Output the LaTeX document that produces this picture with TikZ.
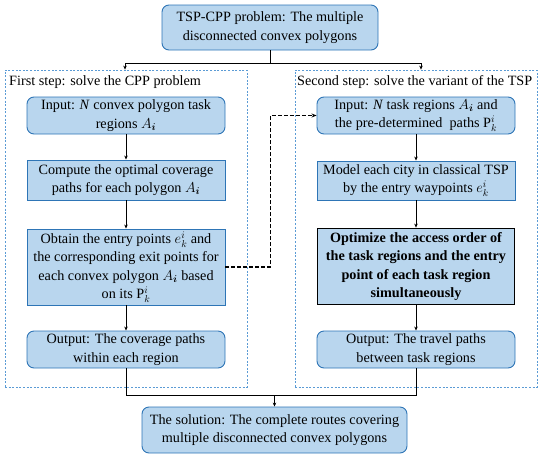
\documentclass[tikz,border=0pt]{standalone}
\usepackage{amsmath,bm}
\usepackage{fontspec}
\setmainfont{Liberation Serif}
\usetikzlibrary{arrows.meta,positioning}
\definecolor{boxfill}{RGB}{185,214,238}
\definecolor{boxline}{RGB}{46,117,182}
\definecolor{frameline}{RGB}{91,155,213}
\begin{document}
\begin{tikzpicture}[x=1pt,y=-1pt,
  base/.style={draw=boxline, fill=boxfill, line width=0.9pt, align=center,
    inner sep=1pt, font=\fontsize{14.2}{18.3}\selectfont},
  rbox/.style={base, rounded corners=7pt},
  sbox/.style={base},
  bbox/.style={base, draw=black, line width=1.8pt},
  frm/.style={draw=frameline, line width=0.8pt, dash pattern=on 2pt off 1.6pt, minimum width=242pt, minimum height=317pt},
  arr/.style={-{Stealth[length=4pt,width=3.5pt]}, line width=0.6pt},
  darr/.style={-{Stealth[length=5pt,width=4pt]}, line width=1.3pt, dash pattern=on 4pt off 2pt},
  ttl/.style={anchor=west, font=\fontsize{14.2}{17}\selectfont, inner sep=0pt}
]
\useasboundingbox (0,0) rectangle (542,456);
\node[rbox, minimum width=216pt, minimum height=45pt] (top) at (270,27.5) {TSP-CPP problem: The multiple\\disconnected convex polygons};

\node[frm] (frL) at (126,228.5) {};
\node[frm] (frR) at (416,228.5) {};
\node[ttl] (tL) at (9,82) {First step: solve the CPP problem};
\node[ttl] (tR) at (297,82) {Second step: solve the variant of the TSP};

\node[rbox, minimum width=198pt, minimum height=37pt] (L1) at (126,115.5) {Input: \textit{N} convex polygon task\\regions $A_{\bm{i}}$};
\node[sbox, minimum width=198pt, minimum height=40pt] (L2) at (126,180) {Compute the optimal coverage\\paths for each polygon $A_{\bm{i}}$};
\node[sbox, minimum width=198pt, minimum height=76pt] (L3) at (126,267) {Obtain the entry points $e_k^i$ and\\the corresponding exit points for\\each convex polygon $A_{\bm{i}}$ based\\on its $\mathrm{P}_k^i$};
\node[rbox, minimum width=198pt, minimum height=37pt] (L4) at (126,349.5) {Output: The coverage paths\\within each region};

\node[rbox, minimum width=198pt, minimum height=37pt] (R1) at (416,115.5) {Input: \textit{N} task regions $A_{\bm{i}}$ and\\the pre-determined\ \ paths $\mathrm{P}_k^i$};
\node[sbox, minimum width=198pt, minimum height=39pt] (R2) at (416,180.5) {Model each city in classical TSP\\by the entry waypoints $e_k^i$};
\node[bbox, minimum width=197pt, minimum height=76pt] (R3) at (416,266.5) {\bfseries Optimize the access order of\\\bfseries the task regions and the entry\\\bfseries point of each task region\\\bfseries simultaneously};
\node[rbox, minimum width=198pt, minimum height=37pt] (R4) at (416,349.5) {Output: The travel paths\\between task regions};

\node[rbox, minimum width=265pt, minimum height=46pt] (bot) at (274.5,430) {The solution: The complete routes covering\\multiple disconnected convex polygons};

\draw[line width=0.6pt] (top.south) -- ++(0,13) coordinate (jt);
\draw[arr] (jt) -| ([xshift=-1pt]frL.north);
\draw[arr] (jt) -| ([xshift=5pt]frR.north);

\draw[arr] (L1) -- (L2);
\draw[arr] (L2) -- (L3);
\draw[arr] (L3) -- (L4);
\draw[arr] (R1) -- (R2);
\draw[arr] (R2) -- (R3);
\draw[arr] (R3) -- (R4);

\draw[darr] (L3.east) -- ++(45,0) |- (R1.west);

\draw[line width=0.6pt] (L4.south) -- ++(0,27) coordinate (jb) -| (R4.south);
\draw[arr] (jb -| bot.north) -- (bot.north);
\end{tikzpicture}
\end{document}
